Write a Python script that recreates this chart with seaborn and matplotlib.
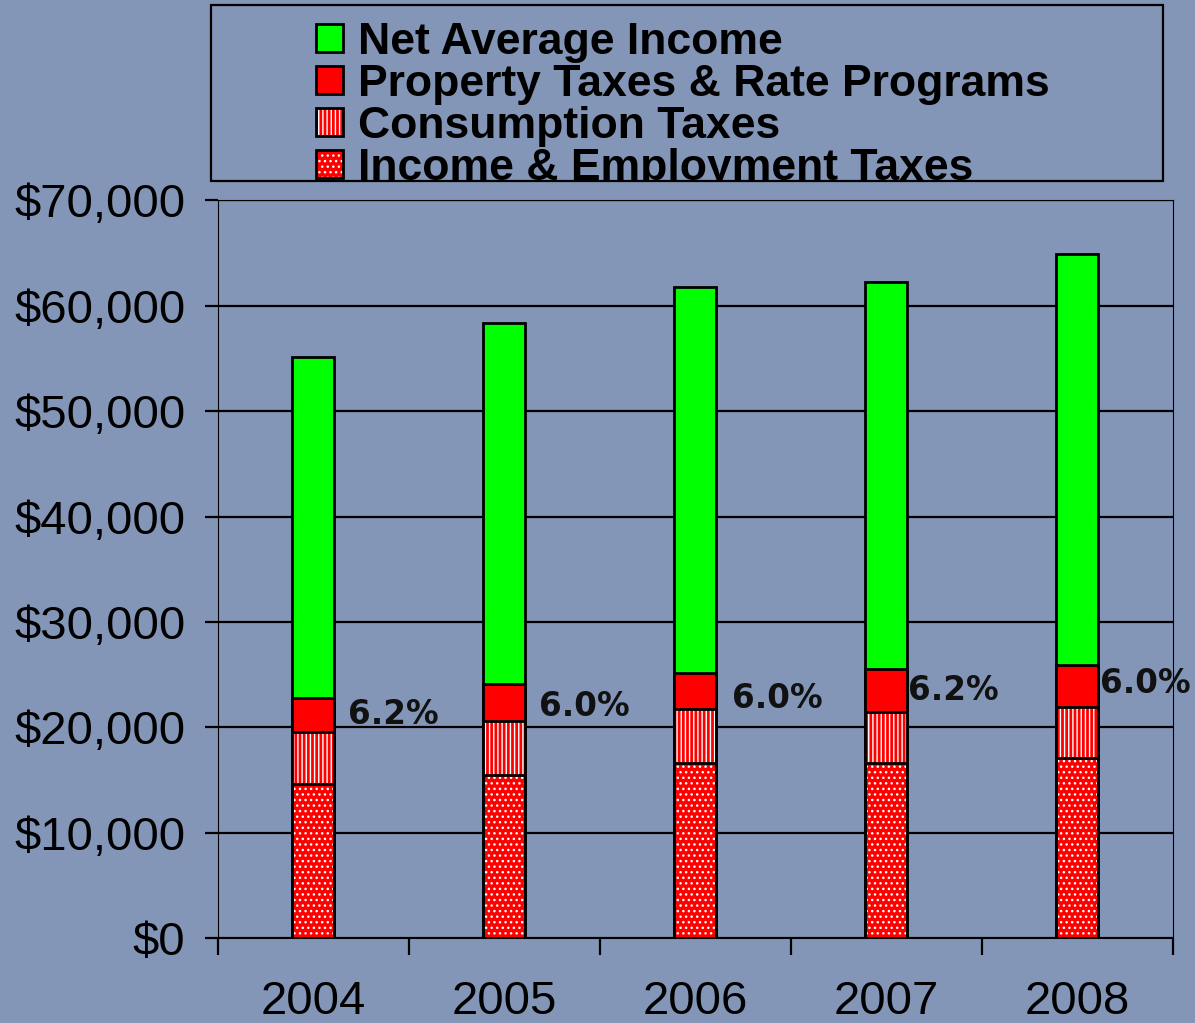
import matplotlib
matplotlib.use('Agg')
import matplotlib.pyplot as plt
import matplotlib.patches as mpatches
from matplotlib.ticker import FixedLocator, NullFormatter, StrMethodFormatter
import numpy as np
import seaborn as sns


years = ['2004', '2005', '2006', '2007', '2008']
income_emp = [14600, 15450, 16600, 16600, 17050]
consumption = [4950, 5100, 5100, 4850, 4850]
property_rate = [3200, 3600, 3500, 4050, 4000]
net_income = [32400, 34250, 36550, 36750, 39000]
pct_labels = ['6.2%', '6.0%', '6.0%', '6.2%', '6.0%']

# label nudges (points) relative to the top-right corner of the property block
label_dx = [9.4, 10, 11.5, 0.7, 1.4]
label_dy = [-18.7, -23, -25.9, -22.3, -20.2]

BG = '#8496B8'
RED = '#FF0000'
GREEN = '#00FF00'
BAR_W = 0.22
EDGE_LW = 2.0

sns.set_style('ticks', rc={
    'axes.facecolor': BG,
    'figure.facecolor': BG,
    'axes.edgecolor': 'black',
    'axes.linewidth': 1.6,
    'grid.color': 'black',
    'hatch.linewidth': 1.2,
    'text.color': 'black',
    'xtick.color': 'black',
    'ytick.color': 'black',
})
plt.rcParams['font.family'] = ['Liberation Sans', 'DejaVu Sans']

cum_income = np.array(income_emp)
cum_cons = cum_income + np.array(consumption)
cum_prop = cum_cons + np.array(property_rate)
cum_total = cum_prop + np.array(net_income)

fig = plt.figure(figsize=(11.95, 10.23), dpi=100)
ax = fig.add_axes([218 / 1195, 1 - 938 / 1023, (1172.5 - 218) / 1195, (938 - 200.5) / 1023])

# stack by overdrawing cumulative heights, tallest first
layers = [
    (cum_total, GREEN, None),
    (cum_prop, RED, None),
    (cum_cons, RED, '||||'),
    (cum_income, RED, '...'),
]
for heights, color, hatch in layers:
    if hatch is None:
        sns.barplot(x=years, y=heights, color=color, saturation=1, width=BAR_W,
                    edgecolor='black', linewidth=EDGE_LW, ax=ax, zorder=3)
    else:
        sns.barplot(x=years, y=heights, color=color, saturation=1, width=BAR_W,
                    hatch=hatch, edgecolor='white', linewidth=0, ax=ax, zorder=3)
        sns.barplot(x=years, y=heights, color='black', fill=False, width=BAR_W,
                    linewidth=EDGE_LW, ax=ax, zorder=4)

for i, txt in enumerate(pct_labels):
    ax.annotate(txt, xy=(i + BAR_W / 2, cum_prop[i]),
                xytext=(label_dx[i], label_dy[i]), textcoords='offset points',
                ha='left', va='baseline', fontsize=23.5, fontweight='bold',
                family='DejaVu Sans', color='#111111', zorder=5)

ax.set_ylim(0, 70000)
ax.set_xlim(-0.5, len(years) - 0.5)
ax.set_yticks(np.arange(0, 70001, 10000))
ax.yaxis.set_major_formatter(StrMethodFormatter('${x:,.0f}'))
ax.yaxis.grid(True, color='black', linewidth=1.6)
ax.set_axisbelow(True)

ax.xaxis.set_major_locator(FixedLocator(np.arange(-0.5, len(years), 1.0)))
ax.xaxis.set_major_formatter(NullFormatter())
ax.xaxis.set_minor_locator(FixedLocator(np.arange(len(years))))
ax.set_xticklabels(years, minor=True)
ax.tick_params(axis='x', which='major', length=12, width=1.6, direction='out')
ax.tick_params(axis='x', which='minor', length=0, pad=30, labelsize=34)
ax.tick_params(axis='y', length=9.5, width=1.6, pad=14, labelsize=34)
ax.set_xlabel('')
ax.set_ylabel('')
for side in ['top', 'right', 'left', 'bottom']:
    ax.spines[side].set_visible(True)
    ax.spines[side].set_color('black')

# legend: box drawn separately, entries clipped to it
box = mpatches.Rectangle((211 / 1195, 1 - 181 / 1023), 952 / 1195, 176 / 1023,
                         transform=fig.transFigure, fill=False,
                         edgecolor='black', linewidth=1.6)
fig.add_artist(box)

def swatch(color, hatch=None):
    if hatch is None:
        return mpatches.Patch(facecolor=color, edgecolor='black', linewidth=EDGE_LW)
    return (mpatches.Patch(facecolor=color, edgecolor='white', hatch=hatch, linewidth=0),
            mpatches.Patch(facecolor='none', edgecolor='black', linewidth=EDGE_LW))

handles = [swatch(GREEN), swatch(RED), swatch(RED, '||||'), swatch(RED, '...')]
labels = ['Net Average Income', 'Property Taxes & Rate Programs',
          'Consumption Taxes', 'Income & Employment Taxes']
leg = fig.legend(handles, labels, loc='upper left',
                 bbox_to_anchor=(316 / 1195, 1 - 22 / 1023),
                 frameon=False, borderpad=0, borderaxespad=0,
                 handlelength=0.6, handleheight=0.6, handletextpad=0.35,
                 labelspacing=0.02, prop={'size': 32, 'weight': 'bold'})
for t in leg.get_texts():
    t.set_clip_path(box)

fig.savefig('out.png', dpi=100, facecolor=BG)
